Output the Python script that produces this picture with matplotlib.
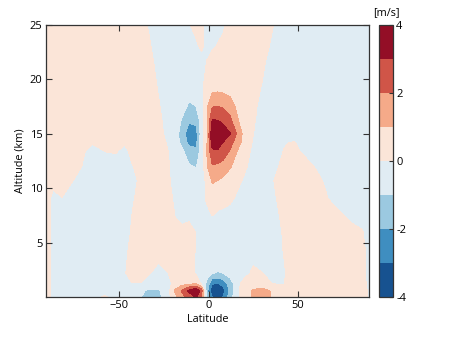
import matplotlib
matplotlib.use('Agg')
import matplotlib.pyplot as plt

latitudes = [-91, -87, -82, -76, -70, -65, -58, -52, -47, -43, -38, -33, -28, -23,
             -19, -15, -11, -7, -4, -1, 2, 5, 8, 12, 16, 20, 25, 30, 36, 42, 48,
             56, 64, 72, 80, 86, 88, 90]
altitudes = [0.05, 0.6, 1.25, 2.2, 3.1, 4.5, 6.0, 7.3, 9.0, 10.7, 12.0, 13.4,
             14.2, 15.0, 16.3, 17.5, 19.3, 21.7, 23.0, 25.0]

# zonal wind anomaly [m/s], one row per altitude (bottom to top)
wind = [
    [0.4, -0.3, -0.5, -0.5, -0.5, -0.3, 0.1, -0.3, -0.5, -0.6, -0.95, -1.4, -1.3, -0.4, 0.7, 1.6, 2.5, 3.2, 2.0, -1.4, -3.0, -3.4, -3.0, -1.5, -0.2, 0.4, 1.15, 1.4, 0.9, 0.5, 0.5, 0.5, 0.5, 0.5, 0.5, 0.4, 0.2, -0.3],
    [0.4, -0.3, -0.5, -0.5, -0.5, -0.5, -0.5, -0.5, -0.5, -0.6, -0.85, -1.15, -1.1, -0.5, 1.1, 2.1, 3.2, 3.95, 2.6, -1.6, -3.8, -3.9, -3.4, -1.8, -0.2, 0.4, 1.1, 1.25, 0.9, 0.5, 0.5, 0.5, 0.5, 0.5, 0.5, 0.4, 0.2, -0.3],
    [0.4, -0.3, -0.5, -0.5, -0.5, -0.5, -0.5, -0.5, -0.05, -0.05, -0.05, -0.4, -0.5, -0.4, 0.3, 0.6, 0.8, 0.9, -0.15, -1.2, -2.9, -3.05, -2.7, -1.5, -0.4, 0.5, 0.5, 0.5, -0.05, -0.05, 0.5, 0.5, 0.5, 0.5, 0.5, 0.4, 0.1, -0.9],
    [0.4, -0.3, -0.5, -0.5, -0.5, -0.5, -0.5, -0.5, -0.1, 0.5, 0.5, 0.05, -0.4, -0.05, 0.5, 0.5, 0.5, -0.1, -0.5, -0.7, -0.95, -1.1, -1.0, -0.6, -0.5, -0.5, 0.3, 0.05, -0.5, -0.1, 0.5, 0.5, 0.5, 0.5, 0.5, 0.4, -0.1, -1.1],
    [0.4, -0.3, -0.5, -0.5, -0.5, -0.5, -0.5, -0.5, -0.2, 0.5, 0.5, 0.5, -0.02, 0.5, 0.5, 0.5, 0.5, -0.2, -0.5, -0.5, -0.5, -0.5, -0.5, -0.5, -0.5, -0.5, -0.1, -0.5, -0.5, -0.05, 0.5, 0.5, 0.5, 0.5, 0.5, 0.4, -0.1, -1.1],
    [0.4, -0.3, -0.5, -0.5, -0.5, -0.5, -0.5, -0.5, -0.3, 0.3, 0.5, 0.5, 0.5, 0.5, 0.5, 0.5, 0.5, -0.05, -0.5, -0.5, -0.5, -0.5, -0.5, -0.5, -0.5, -0.5, -0.5, -0.5, -0.5, 0.05, 0.5, 0.5, 0.5, 0.5, 0.5, 0.4, -0.1, -1.1],
    [0.4, -0.3, -0.5, -0.5, -0.5, -0.5, -0.5, -0.5, -0.5, 0.1, 0.5, 0.5, 0.5, 0.5, 0.5, 0.5, 0.5, -0.05, -0.5, -0.5, -0.5, -0.5, -0.5, -0.5, -0.5, -0.5, -0.5, -0.5, -0.5, 0.1, 0.5, 0.5, 0.5, 0.5, 0.5, 0.1, -0.3, -1.1],
    [0.4, -0.3, -0.5, -0.5, -0.5, -0.5, -0.5, -0.5, -0.5, 0.02, 0.5, 0.5, 0.5, 0.5, 0.05, -0.5, -0.2, -0.5, -0.5, -0.5, -0.05, -0.3, -0.5, -0.5, -0.5, -0.5, -0.5, -0.5, -0.5, 0.3, 0.5, 0.5, 0.5, 0.5, -0.3, -0.5, -0.5, -1.1],
    [0.4, -0.3, -0.05, -0.5, -0.5, -0.5, -0.5, -0.5, -0.5, -0.2, 0.5, 0.5, 0.5, 0.5, -0.2, -0.5, -0.5, -0.5, -0.5, 0.2, 0.5, 0.5, 0.5, 0.2, -0.2, -0.5, -0.5, -0.5, -0.2, 0.4, 0.5, 0.5, 0.3, -0.5, -0.5, -0.5, -0.5, -1.1],
    [0.4, 0.3, 0.5, 0.02, -0.5, -0.5, -0.5, -0.5, -0.5, -0.5, 0.3, 0.5, 0.5, 0.3, -0.5, -0.5, -0.6, -0.7, -0.5, 0.25, 1.1, 1.0, 0.8, 0.5, 0.3, -0.15, -0.5, -0.5, -0.05, 0.5, 0.5, 0.5, -0.02, -0.5, -0.5, -0.5, -0.5, -1.1],
    [0.4, 0.5, 0.5, 0.5, -0.1, -0.5, -0.5, -0.5, -0.5, -0.1, 0.5, 0.5, 0.5, 0.2, -0.5, -0.7, -0.9, -1.05, -0.6, 0.9, 1.9, 1.8, 1.6, 1.1, 0.6, 0.2, -0.4, -0.5, -0.5, 0.45, 0.5, 0.3, -0.5, -0.5, -0.5, -0.5, -0.5, -1.1],
    [0.4, 0.5, 0.5, 0.5, 0.1, -0.4, 0.02, 0.1, -0.3, 0.3, 0.5, 0.5, 0.5, 0.05, -0.5, -0.8, -1.5, -1.8, -0.5, 1.0, 2.8, 2.9, 2.6, 1.9, 1.0, 0.5, -0.25, -0.5, -0.5, 0.02, 0.3, -0.5, -0.5, -0.5, -0.5, -0.5, -0.5, -1.1],
    [0.4, 0.5, 0.5, 0.5, 0.5, 0.1, 0.5, 0.5, 0.1, 0.5, 0.5, 0.5, 0.5, -0.1, -0.6, -1.2, -2.3, -2.3, -0.45, 0.9, 3.5, 3.6, 3.0, 2.4, 1.5, 0.6, -0.1, -0.5, -0.5, -0.05, 0.05, -0.5, -0.5, -0.5, -0.5, -0.5, -0.5, -1.1],
    [0.4, 0.5, 0.5, 0.5, 0.5, 0.5, 0.5, 0.5, 0.5, 0.5, 0.5, 0.5, 0.5, -0.4, -0.5, -1.4, -2.6, -2.4, -0.5, 0.8, 3.8, 3.95, 3.7, 3.05, 1.9, 0.6, 0.02, -0.5, -0.5, -0.5, -0.5, -0.5, -0.5, -0.5, -0.5, -0.5, -0.5, -1.1],
    [0.4, 0.5, 0.5, 0.5, 0.5, 0.5, 0.5, 0.5, 0.5, 0.5, 0.5, 0.5, 0.3, -0.5, -0.5, -1.05, -1.8, -1.7, -0.5, 0.8, 3.0, 2.95, 2.7, 2.2, 1.1, 0.4, 0.1, -0.3, -0.5, -0.5, -0.5, -0.5, -0.5, -0.5, -0.5, -0.5, -0.5, -1.1],
    [0.4, 0.5, 0.5, 0.5, 0.5, 0.5, 0.5, 0.5, 0.5, 0.5, 0.5, 0.5, 0.1, -0.5, -0.5, -0.7, -1.1, -1.0, -0.5, 0.8, 1.95, 2.0, 1.9, 1.5, 0.8, 0.3, 0.15, -0.2, -0.5, -0.5, -0.5, -0.5, -0.5, -0.5, -0.5, -0.5, -0.5, -1.1],
    [0.4, 0.5, 0.5, 0.5, 0.5, 0.5, 0.5, 0.5, 0.5, 0.5, 0.5, 0.5, -0.1, -0.5, -0.5, -0.6, -0.7, -0.6, -0.3, 0.6, 0.6, 0.65, 0.6, 0.5, 0.5, 0.4, 0.3, -0.05, -0.5, -0.5, -0.5, -0.5, -0.5, -0.5, -0.5, -0.5, -0.5, -1.1],
    [0.4, 0.5, 0.5, 0.5, 0.5, 0.5, 0.5, 0.5, 0.5, 0.5, 0.5, 0.3, -0.4, -0.5, -0.5, -0.5, -0.5, -0.5, -0.5, 0.02, 0.5, 0.5, 0.5, 0.5, 0.5, 0.5, 0.5, 0.2, -0.4, -0.5, -0.5, -0.5, -0.5, -0.5, -0.5, -0.5, -0.5, -1.1],
    [0.4, 0.5, 0.5, 0.5, 0.5, 0.5, 0.5, 0.5, 0.5, 0.5, 0.5, 0.1, -0.5, -0.5, -0.5, -0.5, -0.5, -0.3, 0.3, -0.5, -0.2, 0.1, 0.5, 0.5, 0.5, 0.5, 0.5, 0.5, -0.25, -0.5, -0.5, -0.5, -0.5, -0.5, -0.5, -0.5, -0.5, -1.1],
    [0.4, 0.5, 0.5, 0.5, 0.5, 0.5, 0.5, 0.5, 0.5, 0.5, 0.4, -0.15, -0.5, -0.5, -0.5, -0.5, -0.1, 0.5, 0.4, -0.6, -0.5, -0.5, -0.35, 0.65, 0.5, 0.5, 0.5, 0.5, 0.05, -0.55, -0.5, -0.5, -0.5, -0.5, -0.5, -0.5, -0.5, -1.1],
]

levels = [-4, -3, -2, -1, 0, 1, 2, 3, 4]
x_ticks = [-50, 0, 50]
y_ticks = [5, 10, 15, 20, 25]
cbar_ticks = [-4, -2, 0, 2, 4]
cbar_ticklabels = ['-4', '-2', '0', '2', '4']

plt.rcParams['font.family'] = ['Open Sans', 'DejaVu Sans']

fig = plt.figure(figsize=(4.6, 3.39), dpi=100)
ax = fig.add_axes([0.100, 0.125, 0.703, 0.802])
cf = ax.contourf(latitudes, altitudes, wind, levels=levels, cmap='RdBu_r')
ax.set_xticks(x_ticks)
ax.set_yticks(y_ticks)
ax.tick_params(direction='in', top=True, right=True, length=4, width=0.8,
               labelsize=8, pad=2.5, colors='#333333', labelcolor='black')
for s in ax.spines.values():
    s.set_color('#333333')
    s.set_linewidth(0.9)
ax.set_xlabel('Latitude', fontsize=7.8, labelpad=2, color='black')
ax.set_ylabel('Altitude (km)', fontsize=7.8, labelpad=3, color='black')

cax = fig.add_axes([0.824, 0.125, 0.031, 0.802])
cb = fig.colorbar(cf, cax=cax, ticks=cbar_ticks)
cb.ax.set_yticklabels(cbar_ticklabels)
cb.ax.tick_params(direction='in', length=3, width=0.8, labelsize=8, pad=2,
                  colors='#333333', labelcolor='black')
cb.outline.set_edgecolor('#333333')
cb.outline.set_linewidth(0.9)
cb.ax.set_title('[m/s]', fontsize=7.8, pad=7, color='black')

fig.savefig('out.png', dpi=100)
